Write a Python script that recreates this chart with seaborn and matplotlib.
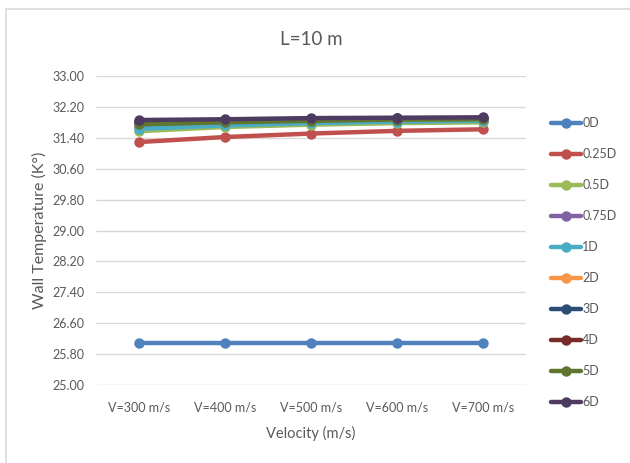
import numpy as np
import pandas as pd
import matplotlib
matplotlib.use("Agg")
import matplotlib.pyplot as plt
import seaborn as sns
from matplotlib.patches import Rectangle

velocities = ["V=300 m/s", "V=400 m/s", "V=500 m/s", "V=600 m/s", "V=700 m/s"]
series_names = ["0D", "0.25D", "0.5D", "0.75D", "1D", "2D", "3D", "4D", "5D", "6D"]
t_0D = [26.09, 26.09, 26.09, 26.09, 26.09]
t_025D = [31.29, 31.42, 31.51, 31.58, 31.62]
t_05D = [31.57, 31.68, 31.74, 31.78, 31.80]
t_075D = [31.68, 31.75, 31.80, 31.83, 31.85]
t_1D = [31.63, 31.72, 31.78, 31.82, 31.84]
t_2D = [31.78, 31.83, 31.86, 31.88, 31.89]
t_3D = [31.82, 31.86, 31.89, 31.90, 31.91]
t_4D = [31.80, 31.85, 31.88, 31.90, 31.91]
t_5D = [31.75, 31.80, 31.84, 31.87, 31.88]
t_6D = [31.86, 31.88, 31.91, 31.92, 31.93]
all_series = [t_0D, t_025D, t_05D, t_075D, t_1D, t_2D, t_3D, t_4D, t_5D, t_6D]
colors = ["#4F81BD", "#C0504D", "#9BBB59", "#8064A2", "#4BACC6",
          "#F79646", "#2C4D75", "#772C2A", "#5F7530", "#4D3B62"]

rows = []
for name, vals in zip(series_names, all_series):
    for v, t in zip(velocities, vals):
        rows.append({"Velocity": v, "Temp": t, "Series": name})
df = pd.DataFrame(rows)

sns.set_theme(style="white")
plt.rcParams["font.family"] = ["Lato", "DejaVu Sans"]
txt = "#595959"

fig = plt.figure(figsize=(6.3, 4.63), dpi=100)
ax = fig.add_axes([96/630, 1-385/463, 430/630, 309/463])

sns.lineplot(data=df, x="Velocity", y="Temp", hue="Series", style="Series",
             hue_order=series_names, style_order=series_names,
             palette=dict(zip(series_names, colors)),
             markers={n: "o" for n in series_names}, dashes=False,
             linewidth=3.2, markersize=7.5, markeredgewidth=0, ax=ax, legend=True)

ax.set_ylim(25.0, 33.0)
ax.set_xlim(-0.5, 4.5)
yt = np.arange(25.0, 33.001, 0.8)
ax.set_yticks(yt)
ax.set_yticklabels([f"{v:.2f}" for v in yt])
ax.yaxis.grid(True, color="#D9D9D9", linewidth=1.0)
ax.xaxis.grid(False)
for s in ax.spines.values():
    s.set_visible(False)
ax.tick_params(axis="both", length=0, labelsize=9, colors=txt, pad=8)
ax.tick_params(axis="x", pad=12)
ax.set_xlabel("Velocity (m/s)", fontsize=10.5, color=txt, labelpad=9)
ax.set_ylabel("Wall Temperature (K°)", fontsize=11.5, color=txt, labelpad=4)
ax.set_title("L=10 m", fontsize=13.5, color=txt, pad=22)

h, l = ax.get_legend_handles_labels()
ax.get_legend().remove()
leg = fig.legend(h, l, loc="upper left", bbox_to_anchor=(546/630, 1-112/463),
                 frameon=False, fontsize=9, labelspacing=1.52, handlelength=2.4,
                 handletextpad=0.1, borderaxespad=0)
for t in leg.get_texts():
    t.set_color(txt)

fig.patches.append(Rectangle((6/630, -0.1), 1.2, 1-9/463+0.1, transform=fig.transFigure,
                             fill=False, edgecolor="#D9D9D9", linewidth=1.2))

fig.savefig("out.png", dpi=100)
